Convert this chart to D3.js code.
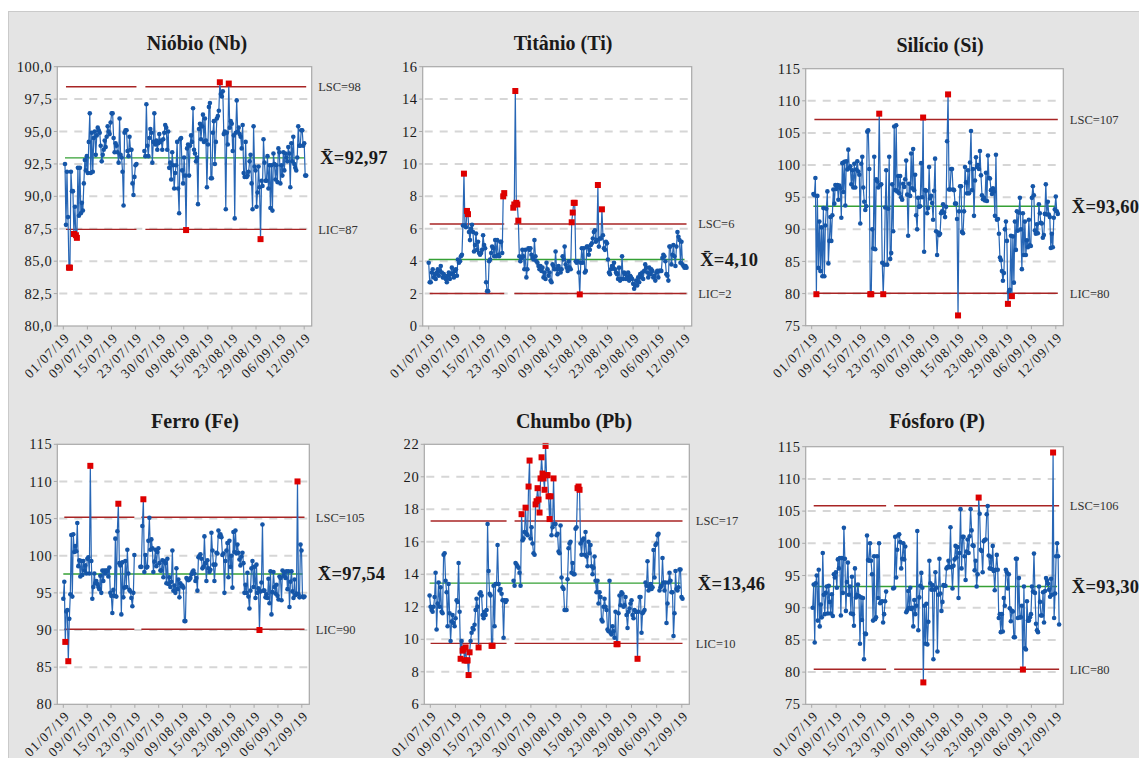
<!DOCTYPE html>
<html>
<head>
<meta charset="utf-8">
<script src="https://cdn.jsdelivr.net/npm/d3@7"></script>
<style>
  body { margin: 0; background: #ffffff; }
  svg { display: block; }
  text { font-family: "Liberation Serif", "Tinos", "Times New Roman", "DejaVu Serif", serif; }
</style>
</head>
<body>
<svg id="chart" width="1139" height="758"></svg>
<script>
// Sample dates shown under each chart (observation axis)
const dateLabels = ["01/07/19", "09/07/19", "15/07/19", "23/07/19", "30/07/19",
  "09/08/19", "15/08/19", "23/08/19", "29/08/19", "06/09/19", "12/09/19"];

// Individual readings per element; null marks the break between the two stages
const niobio = [
  92.5, 87.8, 91.9, 88.4, 84.5, 84.5, 91.9, 90.4, 90.4, 87.1,
  89.2, 87.0, 86.8, 92.2, 88.5, 92.2, 88.7, 89.5, 88.9, 91.0,
  92.8, 92.0, 93.1, 91.8, 94.2, 96.4, 91.8, 94.9, 91.9, 94.5,
  95.0, 93.2, 94.7, 95.3, 95.1, 94.9, 93.9, 92.7, 93.2, 93.6,
  94.3, 93.8, 94.6, 95.4, 95.0, 94.8, 95.7, 96.4, 96.4, 94.5,
  93.4, 94.1, 93.9, 93.4, 92.6, 96.0, 93.2, 93.0, 91.9, 89.3,
  94.9, 95.1, 95.1, 93.5, 93.1, 94.6, 93.6, 93.6, 91.0, 90.1,
  91.5, 92.4, 92.5,
  null, null, null, null, null, null, null,
  93.5, 93.1, 97.1, 93.9, 93.1, 94.5, 95.2, 94.9, 92.6, 94.2,
  96.4, 94.0, 94.3, 93.6, 94.1, 94.8, 94.2, 94.3, 93.6, 94.4,
  94.9, 95.5, 95.3, 93.6, 95.0, 92.2, 92.6, 91.3, 93.4, 92.4,
  90.6, 91.8, 92.4, 94.2, 90.6, 88.7, 94.4, 94.5, 92.0, 91.0,
  93.0, 91.6, 87.4, 93.7, 94.0, 91.6, 93.9, 94.7, 94.2, 96.8,
  93.6, 93.3, 92.7, 93.0, 89.4, 95.2, 95.6, 94.4, 95.4, 96.3,
  94.2, 96.0, 94.3, 90.7, 94.0, 96.9, 97.2, 91.4, 91.4, 94.9,
  95.8, 92.5, 94.2, 96.0, 96.2, 96.6, 98.8, 97.9, 97.7, 98.1,
  94.8, 95.0, 89.0, 94.9, 94.0, 98.7, 95.3, 95.8, 95.6, 93.5,
  94.7, 88.3, 94.9, 97.4, 95.0, 95.3, 94.8, 94.6, 93.7, 95.5,
  91.8, 91.5, 94.2, 91.5, 91.6, 91.9, 92.7, 93.2, 91.0, 89.0,
  95.4, 92.3, 92.0, 89.2, 90.3, 92.3, 90.7, 86.7, 91.2, 90.8,
  94.4, 92.6, 91.2, 91.2, 93.1, 90.6, 92.4, 89.1, 92.4, 88.9,
  93.3, 92.5, 91.3, 92.4, 91.1, 93.7, 93.4, 91.0, 92.4, 91.6,
  93.4, 92.0, 93.3, 93.0, 92.7, 93.8, 93.3, 90.7, 94.1, 92.7,
  94.6, 92.5, 92.2, 92.0, 93.0, 95.4, 93.9, 93.9, 95.1, 95.1,
  93.9, 94.1, 91.6, 91.6
];

const titanio = [
  3.9, 2.7, 2.7, 3.3, 3.5, 3.0, 3.2, 2.9, 3.3, 3.5,
  3.1, 3.4, 3.7, 3.3, 3.0, 3.2, 3.0, 2.9, 2.7, 3.1,
  3.3, 2.9, 3.2, 3.6, 3.2, 3.0, 3.4, 3.5, 3.1, 4.1,
  3.9, 4.0, 4.3, 4.4, 6.2, 9.4, 6.2, 6.1, 7.1, 6.9,
  5.8, 5.3, 6.0, 6.25, 5.8, 4.6, 5.0, 5.7, 4.7, 5.2,
  4.5, 4.4, 4.5, 4.7, 5.6, 5.0, 4.8, 2.7, 2.15, 2.15,
  4.0, 4.1, 4.5, 4.9, 4.8, 4.3, 5.3, 4.3, 5.3, 4.4,
  4.3, 5.2, 5.2, 4.5, 8.0, 8.2,
  null, null, null, null, null, null, null, null,
  7.3, 7.5, 14.5, 7.6, 7.5, 6.5, 4.3, 4.0, 4.2, 4.7,
  4.3, 3.5, 4.7, 3.0, 3.5, 4.8, 4.7, 4.8, 4.4, 4.2,
  4.1, 5.3, 4.3, 4.0, 3.9, 3.7, 3.5, 3.7, 3.4, 3.6,
  3.0, 3.3, 2.9, 3.9, 3.5, 3.1, 3.3, 2.8, 2.7, 3.8,
  3.7, 3.5, 4.6, 3.5, 3.2, 3.7, 3.5, 3.3, 3.5, 4.3,
  4.1, 4.9, 3.8, 3.6, 3.4, 4.0, 3.6, 3.5, 6.4, 7.0,
  7.6, 7.6, 4.0, 3.9, 4.0, 3.3, 1.95, 3.9, 4.8, 3.9,
  4.8, 3.3, 3.4, 4.9, 4.9, 4.4, 4.7, 5.0, 5.1, 5.4,
  5.8, 5.9, 5.2, 5.3, 8.7, 4.9, 5.4, 5.4, 7.2, 5.6,
  4.8, 4.7, 5.2, 5.1, 4.1, 3.3, 3.2, 3.5, 3.7, 3.6,
  3.9, 3.5, 3.3, 3.2, 2.9, 3.6, 2.8, 2.9, 4.3, 2.9,
  3.3, 3.2, 2.9, 3.0, 3.3, 2.8, 3.1, 3.0, 2.9, 2.6,
  2.3, 2.5, 2.8, 2.5, 3.0, 2.7, 3.2, 3.0, 3.3, 2.9,
  3.4, 3.8, 3.6, 3.3, 3.0, 3.6, 3.2, 3.5, 3.4, 3.0,
  3.1, 2.8, 3.3, 3.4, 3.0, 3.4, 3.4, 3.4, 4.2, 4.4,
  4.3, 4.0, 3.2, 3.1, 2.8, 4.9, 4.9, 3.8, 4.4, 5.0,
  4.3, 3.7, 4.9, 5.8, 5.5, 5.3, 3.9, 5.2, 3.8, 3.7,
  3.6, 3.7, 3.6
];

const silicio = [
  95.5, 95.3, 98.0, 79.9, 95.2, 84.0, 91.2, 83.5, 90.3, 82.7,
  93.3, 82.7, 90.6, 93.2, 95.9, 84.7, 88.2, 91.9, 88.2, 92.2,
  96.2, 94.0, 96.9, 96.3, 96.9, 94.6, 96.8, 96.4, 91.8, 100.3,
  95.8, 100.5, 93.7, 100.6, 99.3, 102.4, 99.5, 99.8, 97.0, 99.2,
  96.5, 100.2, 96.5, 99.3, 100.6, 99.0, 98.5, 90.9, 100.2, 101.3,
  96.5, 94.3, 93.0, 93.6, 105.2, 105.4, 99.4, 79.9, 79.9, 90.0,
  87.0, 101.3, 86.9, 97.8, 97.5, 96.5, 108.0, 96.9, 97.0, 84.8,
  79.9, 84.5, 93.4, 99.2, 84.5, 93.2, 101.3, 85.4, 86.3, 97.0,
  89.7, 106.0, 96.1, 106.2, 95.9, 98.3, 95.6, 98.3, 95.0, 94.6,
  97.1, 96.6, 97.8, 100.7, 95.4, 89.0, 97.1, 95.2, 101.8, 96.4,
  102.5, 96.1, 98.5, 92.2, 90.0, 94.9, 93.5, 93.6, 100.3, 95.0,
  107.4, 86.5, 96.1, 96.0, 92.5, 93.3, 99.7, 94.8, 95.2, 94.1,
  91.5, 96.0, 101.0, 89.7, 86.0, 89.5, 89.1, 89.3, 92.5, 92.8,
  93.9, 92.6, 91.9, 93.5, 103.7, 111.0, 96.2, 96.2, 99.4, 99.4,
  96.2, 96.1, 94.0, 94.0, 91.6, 76.6, 92.8, 96.7, 96.7, 89.6,
  89.4, 92.8, 99.7, 97.3, 95.6, 99.2, 95.6, 100.4, 105.3, 96.1,
  99.4, 92.1, 97.6, 101.2, 99.7, 100.0, 99.4, 102.2, 98.4, 95.3,
  94.7, 94.9, 94.5, 98.8, 94.4, 101.5, 98.0, 97.9, 96.1, 95.5,
  96.4, 95.9, 92.1, 101.6, 91.5, 91.6, 89.3, 85.6, 85.2, 83.5,
  82.0, 83.2, 90.0, 91.2, 88.2, 78.4, 80.3, 80.6, 89.0, 79.6,
  88.9, 81.7, 91.2, 86.8, 92.8, 89.8, 92.6, 94.9, 90.0, 83.8,
  92.5, 86.0, 91.2, 86.0, 88.3, 87.2, 91.5, 87.5, 87.4, 94.9,
  96.7, 95.3, 89.8, 89.3, 90.8, 89.4, 93.9, 92.5, 91.0, 90.9,
  88.7, 89.1, 92.4, 97.0, 92.3, 94.3, 92.3, 91.9, 87.1, 89.3,
  87.2, 91.8, 93.1, 95.1, 92.8, 92.4
];

const ferro = [
  94.2, 96.5, 88.4, 92.5, 92.7, 85.8, 91.5, 94.8, 102.8, 94.5,
  102.9, 100.5, 101.3, 100.6, 104.4, 98.6, 99.4, 97.2, 99.3, 97.4,
  99.3, 98.0, 98.7, 97.6, 99.6, 99.8, 97.6, 112.1, 99.3, 94.2,
  95.8, 97.6, 96.3, 96.6, 96.2, 95.8, 95.5, 97.3, 95.0, 98.0,
  96.6, 98.0, 97.6, 98.0, 98.0, 97.2, 98.4, 95.0, 94.6, 92.3,
  95.4, 94.6, 102.3, 94.5, 103.3, 107.0, 99.0, 98.7, 92.1, 99.1,
  94.4, 95.7, 99.3, 95.8, 100.8, 97.6, 95.4, 95.2, 94.3, 93.2,
  95.0, 100.1,
  null, null, null, null, null,
  98.5, 98.5, 104.0, 107.6, 97.8, 100.1, 98.4, 98.5, 102.0, 105.1,
  100.8, 102.2, 101.0, 97.8, 99.2, 100.8, 98.6, 100.5, 101.0, 99.0,
  98.0, 98.0, 99.4, 97.1, 99.3, 99.0, 96.3, 99.6, 96.2, 97.1,
  95.8, 96.5, 100.7, 95.3, 96.0, 95.0, 98.3, 95.5, 96.8, 94.4,
  96.3, 95.9, 96.0, 95.7, 91.2, 91.2, 97.0, 96.8, 96.7, 96.8,
  97.0, 97.5, 97.8, 98.0, 97.6, 96.6, 97.0, 95.3, 99.8, 100.0,
  100.2, 99.6, 98.3, 98.5, 102.6, 99.0, 96.6, 99.4, 98.3, 97.8,
  98.1, 103.1, 100.7, 98.8, 96.6, 98.8, 100.4, 100.3, 103.4, 102.6,
  102.9, 102.5, 100.1, 100.3, 95.0, 99.3, 100.7, 101.7, 97.1, 102.0,
  98.5, 100.0, 95.7, 103.2, 100.5, 103.4, 100.3, 101.5, 100.4, 99.5,
  98.7, 99.9, 100.4, 99.0, 95.0, 96.1, 95.0, 97.7, 94.5, 92.9,
  95.3, 98.3, 99.3, 95.8, 98.5, 94.3, 98.8, 95.0, 95.6, 90.0,
  95.2, 96.4, 104.2, 95.3, 95.3, 94.4, 94.8, 94.3, 96.9, 93.6,
  97.9, 92.1, 95.1, 97.8, 95.8, 94.9, 96.1, 94.6, 94.1, 97.2,
  97.0, 94.0, 98.0, 97.3, 97.8, 97.0, 97.9, 95.5, 97.9, 93.1,
  96.5, 97.9, 95.2, 94.3, 96.8, 94.7, 94.9, 110.0, 94.8, 94.4,
  101.5, 100.7, 94.5, 94.4, 94.5
];

const chumbo = [
  12.7, 12.0, 11.8, 11.7, 12.0, 12.6, 14.1, 10.6, 12.2, 13.5,
  12.0, 13.2, 11.7, 11.6, 15.2, 15.3, 13.6, 12.9, 10.8, 13.4,
  11.6, 9.9, 11.1, 11.5, 11.0, 10.8, 11.3, 12.4, 12.3, 14.7,
  11.7, 8.8, 9.9, 9.3, 9.4, 8.7, 9.5, 8.7, 8.7, 7.8,
  9.2, 9.9, 10.4, 10.7, 10.6, 10.9, 11.8, 12.5, 12.0, 9.5,
  12.8, 12.9, 12.7, 11.5, 11.3, 11.7, 11.5, 11.8, 17.1, 14.2,
  12.8, 12.7, 9.6, 9.6, 13.3, 10.8, 13.4, 13.4, 15.8, 13.4,
  13.0, 13.1, 12.8, 12.4, 10.1, 12.4, 12.3, 12.4,
  null, null, null, null, null, null,
  13.6, 13.3, 14.7, 14.6, 14.5, 14.4, 14.1, 13.3, 17.7, 16.1,
  16.2, 16.6, 18.1, 16.5, 16.4, 19.4, 21.0, 16.2, 16.9, 15.9,
  15.3, 15.2, 18.3, 18.5, 19.3, 18.6, 17.8, 19.9, 21.2, 20.2,
  19.9, 19.2, 21.9, 20.1, 20.1, 18.8, 17.4, 18.8, 16.4, 16.9,
  19.9, 17.1, 17.1, 16.4, 16.5, 15.4, 15.3, 17.0, 13.8, 13.2,
  13.1, 11.8, 11.8, 11.8, 13.7, 15.6, 15.9, 16.0, 14.1, 14.7,
  14.0, 14.0, 16.8, 16.9, 19.3, 19.4, 19.2, 15.9, 15.2, 16.1,
  16.2, 15.2, 16.6, 15.1, 14.5, 16.0, 15.3, 15.8, 14.5, 14.0,
  14.4, 15.1, 13.6, 12.9, 13.6, 12.2, 12.9, 12.6, 11.2, 11.1,
  12.0, 12.5, 12.0, 11.8, 10.6, 10.5, 13.6, 10.4, 10.3, 10.8,
  10.5, 10.1, 11.7, 9.7, 9.7, 11.6, 12.7, 12.1, 12.9, 12.8,
  12.0, 12.1, 12.6, 11.5, 10.7, 11.7, 11.9, 12.2, 12.4, 11.5,
  11.3, 11.8, 11.7, 11.7, 8.8, 11.7, 12.6, 12.6, 10.4, 11.6,
  11.7, 11.8, 13.5, 13.3, 14.8, 13.0, 13.2, 13.4, 13.1, 13.2,
  15.5, 13.8, 15.8, 15.9, 16.4, 16.5, 13.0, 13.2, 13.3, 15.0,
  13.5, 13.0, 13.5, 11.0, 12.2, 13.5, 14.1, 13.6, 12.9, 12.9,
  10.2, 11.6, 14.2, 13.1, 13.0, 13.2, 14.3, 14.3, 12.6, 12.5
];

const fosforo = [
  90.0, 93.6, 84.6, 93.8, 95.0, 88.0, 95.9, 87.1, 90.5, 88.5,
  98.5, 92.0, 89.0, 92.3, 93.3, 89.1, 93.4, 90.9, 89.1, 92.1,
  88.7, 95.2, 94.7, 95.5, 93.1, 97.5, 96.1, 97.7, 88.8, 97.7,
  92.3, 102.4, 97.6, 89.5, 94.0, 97.0, 92.0, 93.3, 89.1, 94.8,
  89.0, 87.2, 96.1, 91.6, 92.0, 93.6, 91.8, 84.4, 91.6, 88.1,
  91.5, 82.0, 86.0, 85.9, 101.2, 97.4, 97.3, 100.0, 97.3, 95.2,
  88.0, 98.0, 88.2, 88.5, 98.0, 91.5, 100.0, 90.7, 90.9, 91.0,
  87.7, 89.0, 91.0, 92.5,
  null, null, null, null, null, null,
  93.0, 93.1, 101.0, 94.7, 99.0, 101.2, 101.4, 100.2, 96.1, 97.6,
  100.0, 97.5, 99.5, 89.3, 89.6, 92.6, 90.0, 93.1, 89.8, 90.0,
  87.1, 91.2, 89.0, 90.3, 101.9, 86.5, 91.6, 93.4, 95.4, 93.1,
  78.4, 90.3, 84.4, 90.6, 84.3, 87.8, 97.3, 93.8, 92.8, 93.5,
  82.0, 92.8, 95.5, 93.1, 83.2, 92.0, 97.6, 92.2, 89.5, 90.9,
  93.5, 93.4, 93.4, 96.1, 96.3, 97.3, 96.3, 102.5, 96.3, 93.0,
  96.5, 97.5, 99.6, 97.8, 99.4, 91.5, 98.5, 105.3, 96.1, 101.0,
  101.0, 98.0, 94.3, 98.7, 100.6, 98.5, 101.1, 105.3, 102.0, 99.7,
  99.6, 95.8, 97.3, 93.3, 95.2, 107.1, 104.6, 99.0, 98.8, 95.5,
  100.3, 100.5, 100.6, 104.5, 105.8, 98.1, 96.1, 97.9, 96.0, 99.6,
  95.7, 92.7, 95.9, 98.2, 95.9, 88.4, 89.0, 86.2, 89.0, 86.3,
  91.5, 90.3, 95.9, 95.5, 93.0, 95.2, 89.9, 87.9, 89.5, 89.4,
  85.4, 85.4, 97.6, 97.6, 88.4, 94.6, 88.5, 88.5, 90.3, 80.4,
  93.3, 83.7, 83.5, 91.0, 88.0, 88.0, 88.5, 89.0, 93.3, 92.5,
  98.4, 92.3, 87.5, 86.5, 86.2, 93.3, 90.9, 88.8, 88.8, 92.4,
  87.7, 92.6, 94.6, 94.2, 93.7, 92.8, 91.7, 94.5, 92.0, 114.1,
  88.4, 92.2, 98.0, 100.0, 98.0, 87.4
];

// Control limits and centre line of each chart
const titles = ["Nióbio (Nb)", "Titânio (Ti)", "Silício (Si)", "Ferro (Fe)", "Chumbo (Pb)", "Fósforo (P)"];
const seriesList = [niobio, titanio, silicio, ferro, chumbo, fosforo];
const upperLimits = [98.45, 6.29, 107.1, 105.17, 17.28, 105.84];
const lowerLimits = [87.45, 2.01, 80.04, 90.1, 9.75, 80.44];
const centreLines = [92.97, 4.10, 93.60, 97.54, 13.46, 93.30];
const yDomains = [[80, 100], [0, 16], [75, 115], [80, 115], [6, 22], [75, 115]];
const yTickSteps = [2.5, 2, 5, 5, 2, 5];
const yTickDecimals = [1, 0, 0, 0, 0, 0];
// observation numbers at which the first and last date labels sit
const firstTickObs = [-1.7, 0, -1.7, 0, 0.7, -1];
const lastTickObs = [241, 253.7, 243, 238.3, 252.3, 241.7];

// Layout of each panel
const layout = [
  { x: 57.3, y: 66.7, w: 254.4, h: 259.3, tx: 197, ty: 50 },
  { x: 422.7, y: 66.7, w: 269, h: 259.3, tx: 563, ty: 50 },
  { x: 805.7, y: 68.7, w: 257.6, h: 257.0, tx: 940, ty: 51.5 },
  { x: 57.3, y: 444.3, w: 252, h: 260, tx: 195, ty: 428 },
  { x: 424.3, y: 444.3, w: 265, h: 260, tx: 574, ty: 428 },
  { x: 805.7, y: 446.7, w: 257.6, h: 257.6, tx: 937, ty: 428 }
];

const locale = d3.formatLocale({ decimal: ",", thousands: ".", grouping: [3], currency: ["", ""] });

const C = {
  bg: "#e4e4e4",
  frame: "#a8a8a8",
  grid: "#d6d6d6",
  limit: "#a82424",
  centre: "#35a035",
  line: "#2766b5",
  dot: "#1556a8",
  alarm: "#dd0000",
  text: "#1a1a1a"
};

const svg = d3.select("#chart");
svg.append("rect").attr("width", 1139).attr("height", 758).attr("fill", "#ffffff");
svg.append("rect").attr("x", 8.5).attr("y", 11.5).attr("width", 1140).attr("height", 760)
  .attr("fill", C.bg).attr("stroke", "#cacaca");

seriesList.forEach((values, p) => {
  const L = layout[p];
  const g = svg.append("g");
  const lsc = upperLimits[p], lic = lowerLimits[p], mean = centreLines[p];

  const x = d3.scaleLinear()
    .domain([firstTickObs[p], lastTickObs[p]])
    .range([L.x + 6, L.x + L.w - 7.5]);
  const y = d3.scaleLinear().domain(yDomains[p]).range([L.y + L.h, L.y]);

  // plot area
  g.append("rect").attr("x", L.x).attr("y", L.y).attr("width", L.w).attr("height", L.h)
    .attr("fill", "#ffffff");

  const [y0, y1] = yDomains[p];
  const yTicks = d3.range(y0, y1 + 1e-9, yTickSteps[p]);
  const yFmt = locale.format("." + yTickDecimals[p] + "f");

  // dashed grid
  g.append("g").selectAll("line").data(yTicks.filter(v => v > y0 && v < y1)).join("line")
    .attr("x1", L.x + 2).attr("x2", L.x + L.w - 2)
    .attr("y1", d => y(d)).attr("y2", d => y(d))
    .attr("stroke", C.grid).attr("stroke-width", 2).attr("stroke-dasharray", "8,7");

  // stages = contiguous runs of observations
  const idx = values.map((v, i) => ({ i, v }));
  const stages = [];
  let cur = null;
  idx.forEach(d => {
    if (d.v === null) { cur = null; return; }
    if (!cur) { cur = []; stages.push(cur); }
    cur.push(d);
  });
  const firstObs = stages[0][0].i;
  const lastStage = stages[stages.length - 1];
  const lastObs = lastStage[lastStage.length - 1].i;

  // control limits per stage
  stages.forEach(st => {
    const a = st[0].i, b = st[st.length - 1].i;
    [lsc, lic].forEach(v => {
      g.append("line").attr("x1", x(a + 1)).attr("x2", x(b))
        .attr("y1", y(v)).attr("y2", y(v))
        .attr("stroke", C.limit).attr("stroke-width", 1.4);
    });
  });
  // centre line
  g.append("line").attr("x1", x(firstObs)).attr("x2", x(lastObs - 2))
    .attr("y1", y(mean)).attr("y2", y(mean))
    .attr("stroke", C.centre).attr("stroke-width", 1.4);

  // individual readings
  const line = d3.line().defined(d => d.v !== null).x(d => x(d.i)).y(d => y(d.v));
  g.append("path").datum(idx).attr("d", line)
    .attr("fill", "none").attr("stroke", C.line).attr("stroke-width", 1.2);

  const pts = idx.filter(d => d.v !== null);
  const isAlarm = d => d.v > lsc || d.v < lic;
  g.append("g").selectAll("circle").data(pts.filter(d => !isAlarm(d))).join("circle")
    .attr("cx", d => x(d.i)).attr("cy", d => y(d.v)).attr("r", 2.3)
    .attr("fill", C.dot);
  g.append("g").selectAll("rect").data(pts.filter(isAlarm)).join("rect")
    .attr("x", d => x(d.i) - 3).attr("y", d => y(d.v) - 3)
    .attr("width", 6).attr("height", 6).attr("fill", C.alarm);

  // frame
  g.append("rect").attr("x", L.x).attr("y", L.y).attr("width", L.w).attr("height", L.h)
    .attr("fill", "none").attr("stroke", C.frame).attr("stroke-width", 1.2);

  // y axis
  const yAxis = g.append("g");
  yAxis.selectAll("line").data(yTicks).join("line")
    .attr("x1", L.x - 3.5).attr("x2", L.x).attr("y1", d => y(d)).attr("y2", d => y(d))
    .attr("stroke", C.frame);
  yAxis.selectAll("text").data(yTicks).join("text")
    .attr("x", L.x - 5).attr("y", d => y(d)).attr("dy", "0.35em")
    .attr("text-anchor", "end").attr("font-size", 14.5).attr("letter-spacing", 0.6)
    .attr("fill", C.text).text(d => yFmt(d));

  // x axis (date labels at evenly spaced observations)
  const tickObs = dateLabels.map((_, k) => firstTickObs[p] + k * (lastTickObs[p] - firstTickObs[p]) / (dateLabels.length - 1));
  const xAxis = g.append("g");
  xAxis.selectAll("line").data(tickObs).join("line")
    .attr("x1", d => x(d)).attr("x2", d => x(d))
    .attr("y1", L.y + L.h).attr("y2", L.y + L.h + 3.5).attr("stroke", C.frame);
  xAxis.selectAll("text").data(dateLabels).join("text")
    .attr("transform", (d, k) => `translate(${x(tickObs[k]) + 4},${L.y + L.h + 9}) rotate(-45)`)
    .attr("dy", "0.35em").attr("text-anchor", "end")
    .attr("font-size", 13.5).attr("letter-spacing", 1.2).attr("fill", C.text)
    .text(d => d);

  // title
  g.append("text").attr("x", L.tx).attr("y", L.ty).attr("text-anchor", "middle")
    .attr("font-size", 20).attr("font-weight", "bold").attr("fill", C.text)
    .text(titles[p]);

  // limit and centre labels
  const rx = L.x + L.w;
  g.append("text").attr("x", rx + 6.5).attr("y", y(lsc)).attr("dy", "0.35em")
    .attr("font-size", 12.5).attr("fill", "#333").text("LSC=" + Math.round(lsc));
  g.append("text").attr("x", rx + 6.5).attr("y", y(lic)).attr("dy", "0.35em")
    .attr("font-size", 12.5).attr("fill", "#333").text("LIC=" + Math.round(lic));
  g.append("text").attr("x", rx + 8.5).attr("y", y(mean)).attr("dy", "0.35em")
    .attr("font-size", 18.5).attr("font-weight", "bold").attr("letter-spacing", 0.3)
    .attr("fill", C.text).text("X\u0304=" + locale.format(".2f")(mean));
});
</script>
</body>
</html>
